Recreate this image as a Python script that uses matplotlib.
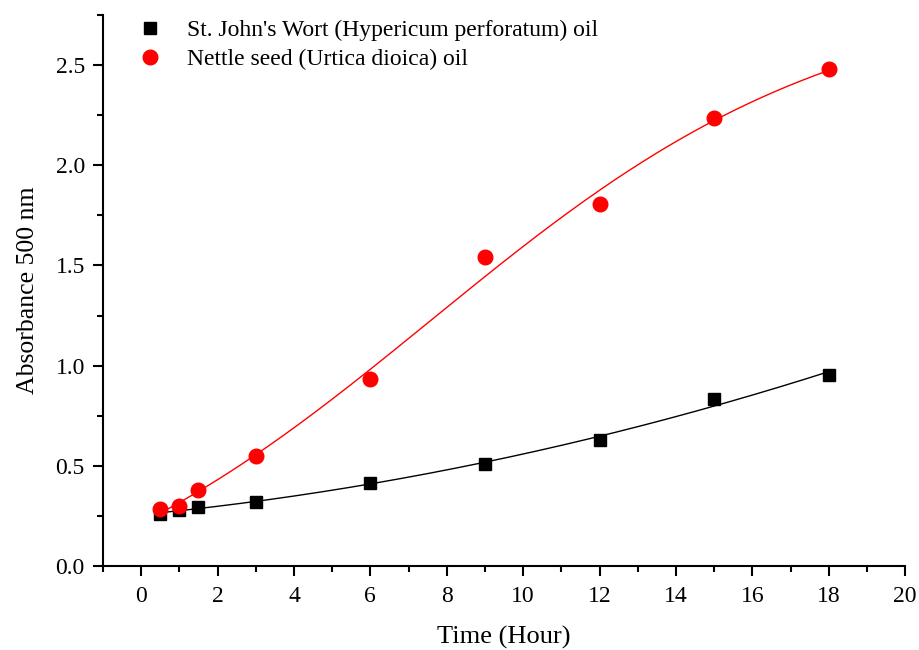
import numpy as np
import matplotlib
matplotlib.use("Agg")
import matplotlib.pyplot as plt
from matplotlib.ticker import MultipleLocator, FormatStrFormatter

plt.rcParams['font.family'] = ['Liberation Serif', 'DejaVu Serif']

time_h = [0.5, 1, 1.5, 3, 6, 9, 12, 15, 18]
st_johns = [0.26, 0.28, 0.295, 0.32, 0.415, 0.51, 0.63, 0.835, 0.955]
nettle = [0.285, 0.30, 0.38, 0.55, 0.935, 1.54, 1.805, 2.235, 2.48]


def boltzmann_fit(x, y):
    """Boltzmann sigmoid y = A2 + (A1-A2)/(1+exp((x-x0)/dx)), least squares."""
    x = np.asarray(x, float)
    y = np.asarray(y, float)
    best = None
    for x0 in np.linspace(3, 15, 241):
        for dx in np.linspace(0.5, 8, 151):
            f = 1.0 / (1.0 + np.exp((x - x0) / dx))
            A = np.column_stack([np.ones_like(x), f])
            coef, *_ = np.linalg.lstsq(A, y, rcond=None)
            sse = np.sum((A @ coef - y) ** 2)
            if best is None or sse < best[0]:
                best = (sse, x0, dx, coef)
    _, x0, dx, coef = best
    return lambda t: coef[0] + coef[1] / (1.0 + np.exp((t - x0) / dx))


fig = plt.figure(figsize=(9.19, 6.5), dpi=100)
ax = fig.add_axes([0.112, 0.129, 0.873, 0.848])

xs = np.linspace(min(time_h), max(time_h), 300)
p1 = np.polyfit(time_h, st_johns, 2)
red_fit = boltzmann_fit(time_h, nettle)
ax.plot(xs, np.polyval(p1, xs), color='black', lw=1)
ax.plot(xs, red_fit(xs), color='red', lw=1)
ax.plot(time_h, st_johns, 's', color='black', ms=9, ls='none',
        label="St. John's Wort (Hypericum perforatum) oil")
ax.plot(time_h, nettle, 'o', color='red', ms=10.5, ls='none',
        label="Nettle seed (Urtica dioica) oil")

ax.set_xlim(-1, 20)
ax.set_ylim(0, 2.75)
ax.xaxis.set_major_locator(MultipleLocator(2))
ax.xaxis.set_minor_locator(MultipleLocator(1))
ax.yaxis.set_major_locator(MultipleLocator(0.5))
ax.yaxis.set_minor_locator(MultipleLocator(0.25))
ax.yaxis.set_major_formatter(FormatStrFormatter('%.1f'))
ax.spines['top'].set_visible(False)
ax.spines['right'].set_visible(False)
for s in ['left', 'bottom']:
    ax.spines[s].set_linewidth(1.5)
ax.tick_params(which='major', direction='out', length=7, width=1.5, labelsize=17)
ax.tick_params(which='minor', direction='out', length=4, width=1.5)
ax.tick_params(axis='x', pad=7)
ax.tick_params(axis='y', pad=6)
ax.set_xlabel('Time (Hour)', fontsize=19, labelpad=14)
ax.set_ylabel('Absorbance 500 nm', fontsize=18.5, labelpad=12)

ax.legend(loc='upper left', bbox_to_anchor=(0.01, 1.03), frameon=False, fontsize=17,
          handletextpad=0.8, labelspacing=0.3, handlelength=1.5)

fig.savefig('out.png', dpi=100)
